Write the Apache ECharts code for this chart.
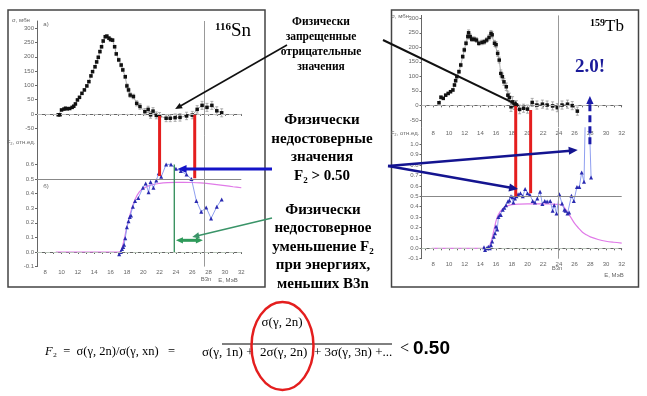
<!DOCTYPE html>
<html><head><meta charset="utf-8">
<script src="https://cdn.jsdelivr.net/npm/echarts@6/dist/echarts.min.js"></script>
<style>html,body{margin:0;padding:0;background:#fff}#c{width:647px;height:396px}</style>
</head><body><div id="c"></div>
<script>
// ---------- tick labels ----------
const xTickLabels = [8,10,12,14,16,18,20,22,24,26,28,30,32];
const xMinorTicksL = [7,8,9,10,11,12,13,14,15,16,17,18,19,20,21,22,23,24,25,26,27,28,29,30,31,32];
const xMinorTicksR = [7,8,9,10,11,12,13,14,15,16,17,18,19,20,21,22,23,24,25,26,27,28,29,30,31,32];
const sigmaTicks = [-50,0,50,100,150,200,250,300];
const leftF2Ticks = [-0.1,0,0.1,0.2,0.3,0.4,0.5,0.6];
const rightF2Ticks = [-0.1,0,0.1,0.2,0.3,0.4,0.5,0.6,0.7,0.8,0.9,1.0];

// ---------- 116Sn: sigma(g,2n), mb ----------
const snSigmaE = [9.6,9.8,10.0,10.3,10.5,10.7,11.0,11.3,11.5,11.7,11.95,12.2,12.5,12.8,13.1,13.35,13.6,13.8,14.1,14.3,14.5,14.7,14.9,15.1,15.35,15.55,15.8,16.0,16.25,16.5,16.7,17.0,17.3,17.5,17.8,18.0,18.2,18.4,18.8,19.2,19.6,20.2,20.6,20.9,21.2,21.6,22.0,22.8,23.3,23.9,24.5,25.3,26.0,26.6,27.2,27.8,28.4,29.0,29.6];
const snSigma  = [-3,-3,14,17,20,18,19,23,27,35,49,58,72,84,98,113,133,148,165,182,198,218,235,255,270,272,265,260,258,235,210,189,171,154,130,98,84,66,61,37,26,8,16,-3,10,-5,-7,-15,-15,-13,-12,-7,-4,16,30,23,30,11,4];
const snSigmaErr=[3,3,3,3,3,3,3,3,3,3,3,4,4,4,4,4,4,4,5,5,5,5,5,5,5,5,5,5,5,5,5,6,6,6,6,7,7,8,8,9,10,11,11,12,12,12,12,12,12,13,13,13,13,13,14,14,14,14,14];
// ---------- 116Sn: F2 ----------
const snF2E = [17.06,17.26,17.4,17.55,17.65,17.8,18.0,18.2,18.35,18.5,18.73,19.0,19.4,19.96,20.3,20.65,20.9,21.25,21.6,21.9,22.2,22.8,23.4,24.0,24.6,25.3,25.9,26.5,27.1,27.7,28.3,29.0,29.6];
const snF2  = [-0.016,0.0,0.02,0.035,0.05,0.095,0.17,0.21,0.24,0.25,0.31,0.35,0.37,0.44,0.47,0.41,0.48,0.44,0.49,0.54,0.515,0.60,0.60,0.57,0.555,0.53,0.50,0.35,0.275,0.305,0.23,0.31,0.36];
const snFitE = [9.3,17.0,17.3,17.6,18.0,18.5,19.0,19.5,20.0,21.0,22.0,23.0,24.0,25.0,26.0,27.0,28.0,29.0,30.0,31.0,32.0];
const snFit  = [0,0,0.01,0.07,0.17,0.28,0.36,0.41,0.435,0.46,0.47,0.475,0.477,0.477,0.476,0.473,0.468,0.462,0.455,0.447,0.44];

// ---------- 159Tb: sigma(g,2n), mb ----------
const tbSigmaE = [8.73,8.98,9.27,9.58,9.9,10.2,10.5,10.7,10.85,11.0,11.27,11.5,11.75,11.95,12.17,12.4,12.5,12.7,12.9,13.2,13.5,13.8,14.2,14.5,14.8,15.1,15.35,15.5,15.8,16.0,16.2,16.4,16.6,16.8,17.0,17.3,17.5,17.7,17.9,18.1,18.3,18.6,19.0,19.5,20.0,20.6,21.2,21.9,22.5,23.2,23.8,24.4,25.1,25.7,26.35];
const tbSigma  = [9,28,24,35,41,47,53,70,85,99,116,139,168,191,214,237,250,237,228,228,225,214,217,219,225,234,248,243,214,209,179,156,110,99,81,64,35,27,-5,12,1,1,-14,-10,-13,10,1,4,1,-2,-8,1,4,-1,-20];
const tbSigmaErr=[4,4,4,4,4,4,5,5,5,5,6,6,6,7,7,8,10,9,8,8,8,8,8,8,8,9,10,10,10,10,10,10,12,12,12,13,14,15,16,18,15,15,15,14,14,14,14,14,14,14,14,14,14,14,14];
// ---------- 159Tb: F2 ----------
const tbF2E = [14.46,14.6,14.8,15.0,15.2,15.35,15.5,15.7,15.86,16.0,16.15,16.3,16.5,16.6,16.85,17.05,17.26,17.5,17.7,17.9,18.1,18.2,18.4,18.6,18.8,19.1,19.4,19.7,20.0,20.3,20.66,20.95,21.25,21.6,21.9,22.2,22.5,22.9,23.2,23.4,23.7,24.05,24.4,24.7,24.85,25.1,25.3,25.6,25.9,26.3,26.6,26.9,27.2,27.55,28.1];
const tbF2  = [0.01,-0.016,0.0,0.015,0.0,0.03,0.065,0.11,0.145,0.21,0.18,0.30,0.32,0.32,0.37,0.39,0.415,0.45,0.46,0.50,0.49,0.44,0.48,0.50,0.52,0.53,0.50,0.57,0.53,0.515,0.455,0.44,0.48,0.545,0.425,0.455,0.45,0.455,0.36,0.415,0.335,0.52,0.43,0.37,0.36,0.335,0.345,0.505,0.455,0.59,0.59,0.73,0.64,2.0,0.68];
const tbFitE = [7.8,14.9,15.2,15.5,15.8,16.1,16.5,17.0,17.5,18.0,19.0,20.0,22.0,23.0,24.0,24.5,25.0,25.5,26.0,26.5,27.0,27.5,28.0,29.0,30.0,31.0,32.0];
const tbFit  = [0,0,0.03,0.1,0.2,0.29,0.35,0.39,0.41,0.42,0.425,0.427,0.427,0.426,0.422,0.41,0.36,0.30,0.24,0.195,0.155,0.13,0.11,0.085,0.068,0.058,0.05];

const B3nSn = 27.5, B3nTb = 23.95;

const zip = (a,b)=>a.map((v,i)=>[v,b[i]]);
const lab = {fontSize:6,color:'#666',fontFamily:'Liberation Sans',margin:3};
const axLine = {lineStyle:{color:'#666',width:1}};

function xAx(grid,min,max,showLab,minor){
  return {type:'value',gridIndex:grid,min:min,max:max,splitLine:{show:false},axisLine:axLine,
    axisTick:{show:true,customValues:minor,length:2,lineStyle:{color:'#666'}},
    axisLabel:Object.assign({show:showLab,customValues:xTickLabels},lab)};
}
function yAx(grid,min,max,ticks,dec){
  return {type:'value',gridIndex:grid,min:min,max:max,splitLine:{show:false},axisLine:axLine,
    axisTick:{show:true,customValues:ticks,length:2,lineStyle:{color:'#666'}},
    axisLabel:Object.assign({customValues:ticks,formatter:v=>dec?v.toFixed(1):String(Math.round(v))},lab)};
}
function errSeries(xi,E,S,Er){
  return {type:'custom',xAxisIndex:xi,yAxisIndex:xi,silent:true,z:1,
    data:E.map((e,i)=>[e,S[i]-Er[i],S[i]+Er[i]]),
    renderItem:(p,api)=>{const lo=api.coord([api.value(0),api.value(1)]),hi=api.coord([api.value(0),api.value(2)]);
      const c={stroke:'#999',lineWidth:0.8};
      return {type:'group',children:[
        {type:'line',shape:{x1:lo[0],y1:lo[1],x2:hi[0],y2:hi[1]},style:c},
        {type:'line',shape:{x1:lo[0]-1.5,y1:lo[1],x2:lo[0]+1.5,y2:lo[1]},style:c},
        {type:'line',shape:{x1:hi[0]-1.5,y1:hi[1],x2:hi[0]+1.5,y2:hi[1]},style:c}]};}};
}
const mlBase = {silent:true,symbol:'none',label:{show:false}};
function sigmaSeries(i,E,S,b3n){
  return {type:'line',xAxisIndex:i,yAxisIndex:i,data:zip(E,S),symbol:'rect',symbolSize:3.5,
    itemStyle:{color:'#111'},lineStyle:{color:'#999',width:0.8},z:3,
    markLine:Object.assign({},mlBase,{data:[
      {yAxis:0,lineStyle:{color:'#bbb',type:[5,3],width:1}},
      {xAxis:b3n,lineStyle:{color:'#999',type:'solid',width:1}}]})};
}
function f2Series(i,E,F,b3n){
  return {type:'line',xAxisIndex:i,yAxisIndex:i,data:zip(E,F),symbol:'triangle',symbolSize:4,clip:true,
    itemStyle:{color:'#2a2ab0'},lineStyle:{color:'#8f9ff0',width:1},z:4,
    markLine:Object.assign({},mlBase,{data:[
      {yAxis:0,lineStyle:{color:'#b8c4b8',type:[5,3],width:1}},
      {yAxis:0.5,lineStyle:{color:'#888',type:'solid',width:1}},
      {xAxis:b3n,lineStyle:{color:'#999',type:'solid',width:1}}]})};
}
function fitSeries(i,E,F){
  return {type:'line',xAxisIndex:i,yAxisIndex:i,data:zip(E,F),symbol:'none',smooth:0.3,
    lineStyle:{color:'#e07ae8',width:1.2},z:3};
}

const chart = echarts.init(document.getElementById('c'),null,{renderer:'canvas'});
chart.setOption({
  backgroundColor:'#fff',animation:false,
  grid:[
    {left:37,top:21,width:204.3,height:114.4},
    {left:37,top:135.2,width:204.3,height:131.4},
    {left:421.5,top:15.4,width:200.2,height:111.7},
    {left:421.5,top:127.7,width:200.2,height:131}
  ],
  xAxis:[xAx(0,7,32,false,xMinorTicksL),xAx(1,7,32,true,xMinorTicksL),xAx(2,6.5,32,true,xMinorTicksR),xAx(3,6.5,32,true,xMinorTicksR)],
  yAxis:[yAx(0,-75,325,sigmaTicks,false),yAx(1,-0.1,0.8,leftF2Ticks,true),yAx(2,-75,310,sigmaTicks,false),yAx(3,-0.1,1.16,rightF2Ticks,true)],
  series:[
    errSeries(0,snSigmaE,snSigma,snSigmaErr),
    sigmaSeries(0,snSigmaE,snSigma,B3nSn),
    fitSeries(1,snFitE,snFit),
    f2Series(1,snF2E,snF2,B3nSn),
    errSeries(2,tbSigmaE,tbSigma,tbSigmaErr),
    sigmaSeries(2,tbSigmaE,tbSigma,B3nTb),
    fitSeries(3,tbFitE,tbFit),
    f2Series(3,tbF2E,tbF2,B3nTb)
  ]
});

const P=(g,x,y)=>chart.convertToPixel({gridIndex:g},[x,y]);
function arrow(p1,p2,color,w,hs,dash,both){
  const [x1,y1]=p1,[x2,y2]=p2;const a=Math.atan2(y2-y1,x2-x1);
  const head=(hx,hy,ang)=>{const bx=hx-hs*Math.cos(ang),by=hy-hs*Math.sin(ang);const px=-Math.sin(ang)*hs*0.45,py=Math.cos(ang)*hs*0.45;
    return {type:'polygon',z:100,shape:{points:[[hx,hy],[bx+px,by+py],[bx-px,by-py]]},style:{fill:color}};};
  const ex=x2-hs*0.8*Math.cos(a),ey=y2-hs*0.8*Math.sin(a);
  let sx=x1,sy=y1;
  if(both){sx=x1+hs*0.8*Math.cos(a);sy=y1+hs*0.8*Math.sin(a);}
  const out=[{type:'line',z:100,shape:{x1:sx,y1:sy,x2:ex,y2:ey},style:{stroke:color,lineWidth:w,lineDash:dash||null}},head(x2,y2,a)];
  if(both) out.push(head(x1,y1,a+Math.PI));
  return out;
}
function seg(p1,p2,color,w){return {type:'line',z:90,shape:{x1:p1[0],y1:p1[1],x2:p2[0],y2:p2[1]},style:{stroke:color,lineWidth:w}};}
function txt(x,y,text,style){return {type:'text',z:110,x:x,y:y,style:Object.assign({text:text,fill:'#000',fontFamily:'Liberation Serif',align:'center',verticalAlign:'middle'},style)};}

const red='#e41e1e';
const g=[];
// panel frames
g.push({type:'rect',z:0,shape:{x:8,y:10,width:257,height:277},style:{fill:null,stroke:'#444',lineWidth:1.5}});
g.push({type:'rect',z:0,shape:{x:391.5,y:10,width:247,height:277},style:{fill:null,stroke:'#444',lineWidth:1.5}});
// red connectors
g.push(seg(P(0,22.0,-7),P(1,22.0,0.52),red,3));
g.push(seg(P(0,26.3,-3),P(1,26.3,0.505),red,3));
g.push(seg(P(2,18.5,0),P(3,18.5,0.5),red,3));
g.push(seg(P(2,20.4,-16),P(3,20.4,0.53),red,3));
// green marks (Sn)
g.push(seg(P(1,23.8,0.6),P(1,23.8,0),'#2e8b57',1.3));
g.push(...arrow(P(1,24.0,0.08),P(1,27.3,0.08),'#2e9a5a',3,7,null,true));
g.push(...arrow([272,218],P(1,26.0,0.103),'#3a9468',1.5,7));
// blue arrows
g.push(...arrow([272,169],P(1,24.2,0.568),'#1414c8',3,9));
g.push(...arrow([388,166],P(3,26.4,0.945),'#141490',2.5,9));
g.push(...arrow([388,166],P(3,18.8,0.57),'#141490',2.5,9));
// dashed blue arrow to 2.0
g.push(...arrow(P(3,27.95,1.0),P(2,27.95,32),'#1a1aa8',3,8,[7,4]));
// black arrows
g.push(...arrow([287,45],P(0,23.9,17),'#111',1.6,7));
g.push(...arrow([383,40],P(2,19.0,-2),'#111',2,6));
// panel labels
g.push(txt(233,31,'{s|116}{b|Sn}',{rich:{s:{fontSize:11,fontWeight:'bold',fontFamily:'Liberation Serif',verticalAlign:'top',padding:[0,0,8,0]},b:{fontSize:19,fontFamily:'Liberation Serif'}}}));
g.push(txt(607,27,'{s|159}{b|Tb}',{rich:{s:{fontSize:10,fontWeight:'bold',fontFamily:'Liberation Serif',padding:[0,0,8,0]},b:{fontSize:17,fontFamily:'Liberation Serif'}}}));
g.push(txt(590,67,'2.0!',{fontSize:19,fontWeight:'bold',fill:'#1a1a9a'}));
const sm={fontSize:6,fontFamily:'Liberation Sans',fill:'#666'};
g.push(txt(21,20,'σ, мбн',sm)); g.push(txt(21,142,'F₂, отн.ед.',sm));
g.push(txt(409,16,'σ, мбн',Object.assign({},sm,{align:'right'}))); g.push(txt(405,133,'F₂, отн.ед.',sm));
g.push(txt(46,24,'а)',sm)); g.push(txt(46,186,'б)',sm));
g.push(txt(206,279,'B3n',sm)); g.push(txt(228,280,'E, МэВ',sm));
g.push(txt(557,268,'B3n',sm)); g.push(txt(614,275,'E, МэВ',sm));
// middle notes
g.push(txt(321,45,'Физически\nзапрещенные\nотрицательные\nзначения',{fontSize:11.5,fontWeight:'bold',lineHeight:15}));
g.push(txt(322,148,'Физически\nнедостоверные\nзначения\nF₂ > 0.50',{fontSize:15,fontWeight:'bold',lineHeight:18.7}));
g.push(txt(323,247,'Физически\nнедостоверное\nуменьшение F₂\nпри энергиях,\nменьших B3n',{fontSize:15,fontWeight:'bold',lineHeight:18.5}));
// formula
g.push(txt(45,352,'{i|F}{n|₂  =  σ(γ, 2n)/σ(γ, xn)   =}',{align:'left',rich:{i:{fontSize:12.5,fontStyle:'italic',fontFamily:'Liberation Serif'},n:{fontSize:12.5,fontFamily:'Liberation Serif'}}}));
g.push(txt(282,323,'σ(γ, 2n)',{fontSize:13}));
g.push({type:'line',z:110,shape:{x1:222,y1:344,x2:392,y2:344},style:{stroke:'#000',lineWidth:1}});
g.push(txt(202,353,'σ(γ, 1n) +  2σ(γ, 2n)  + 3σ(γ, 3n) +...',{fontSize:13,align:'left'}));
g.push(txt(400,349,'{n|< }{b|0.50}',{align:'left',rich:{n:{fontSize:16,fontFamily:'Liberation Serif'},b:{fontSize:19,fontWeight:'bold',fontFamily:'Liberation Sans'}}}));
g.push({type:'ellipse',z:111,shape:{cx:282.5,cy:346,rx:31,ry:44},style:{fill:null,stroke:red,lineWidth:2.5}});

chart.setOption({graphic:g});
</script></body></html>
